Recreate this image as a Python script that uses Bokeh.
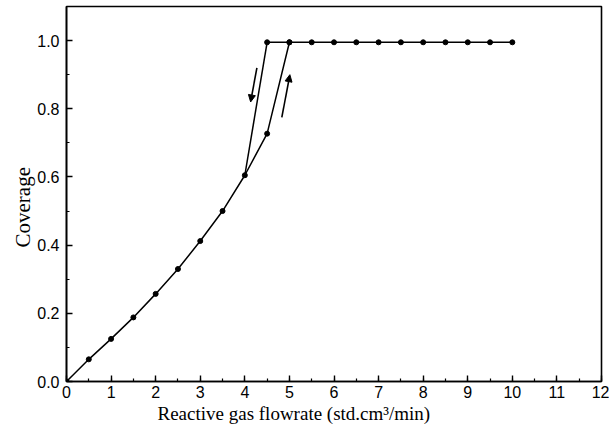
from bokeh.plotting import figure
from bokeh.models import (Range1d, FixedTicker, Title, Arrow, NormalHead,
                          CustomJSTickFormatter)
from bokeh.embed import file_html
from bokeh.resources import INLINE

# Coverage vs. reactive gas flowrate: increasing sweep
flow_up = [0.0, 0.5, 1.0, 1.5, 2.0, 2.5, 3.0, 3.5, 4.0, 4.5, 5.0]
cov_up = [0.0, 0.065, 0.125, 0.188, 0.257, 0.33, 0.412, 0.50, 0.605, 0.727, 0.995]

# Plateau at full coverage
flow_flat = [4.5, 5.0, 5.5, 6.0, 6.5, 7.0, 7.5, 8.0, 8.5, 9.0, 9.5, 10.0]
cov_flat = [0.995] * len(flow_flat)

# Decreasing sweep: drop from full coverage back onto the curve
flow_down = [4.5, 4.0]
cov_down = [0.995, 0.605]

x_ticks = list(range(0, 13))
y_ticks = [0.0, 0.2, 0.4, 0.6, 0.8, 1.0]

p = figure(width=609, height=434, output_backend="svg", toolbar_location=None,
           x_range=Range1d(0, 12), y_range=Range1d(0, 1.1),
           min_border_left=66, min_border_right=8, min_border_top=6,
           min_border_bottom=53)

p.grid.visible = False
p.background_fill_color = "white"
p.border_fill_color = "white"
p.outline_line_color = "black"
p.outline_line_width = 1.6

for ax in (p.xaxis[0], p.yaxis[0]):
    ax.axis_line_width = 1.6
    ax.major_tick_in = 6
    ax.major_tick_out = 0
    ax.minor_tick_in = 3
    ax.minor_tick_out = 0
    ax.major_tick_line_width = 1.4
    ax.minor_tick_line_width = 1.2
    ax.major_label_text_font = "Liberation Sans"
    ax.major_label_text_font_size = "16px"
    ax.major_label_text_color = "black"

p.xaxis[0].ticker = FixedTicker(ticks=x_ticks, minor_ticks=[i * 0.5 for i in range(25)])
p.xaxis[0].major_label_standoff = 4
p.yaxis[0].ticker = FixedTicker(ticks=y_ticks, minor_ticks=[i * 0.1 for i in range(12)])
p.yaxis[0].formatter = CustomJSTickFormatter(code="return tick.toFixed(1);")
p.yaxis[0].major_label_standoff = 7

# Curves
p.line(flow_up, cov_up, line_color="black", line_width=1.5)
p.line(flow_flat, cov_flat, line_color="black", line_width=1.5)
p.line(flow_down, cov_down, line_color="black", line_width=1.5)
p.scatter(flow_up, cov_up, size=5, color="black")
p.scatter(flow_flat, cov_flat, size=5, color="black")

# Sweep-direction arrows
p.add_layout(Arrow(x_start=4.27, y_start=0.92, x_end=4.13, y_end=0.82,
                   line_width=1.6, line_color="black",
                   end=NormalHead(size=7, fill_color="black", line_color="black")))
p.add_layout(Arrow(x_start=4.83, y_start=0.775, x_end=5.01, y_end=0.90,
                   line_width=1.6, line_color="black",
                   end=NormalHead(size=7, fill_color="black", line_color="black")))

# Axis titles
p.add_layout(Title(text="Reactive gas flowrate (std.cm³/min)", align="left",
                   offset=91, text_font="Liberation Serif", text_font_size="19px",
                   text_font_style="normal", text_color="black", standoff=0), "below")
p.add_layout(Title(text="Coverage", align="left", offset=134,
                   text_font="Liberation Serif", text_font_size="21px",
                   text_font_style="normal", text_color="black", standoff=0), "left")

open("out.html", "w").write(file_html(p, INLINE))
